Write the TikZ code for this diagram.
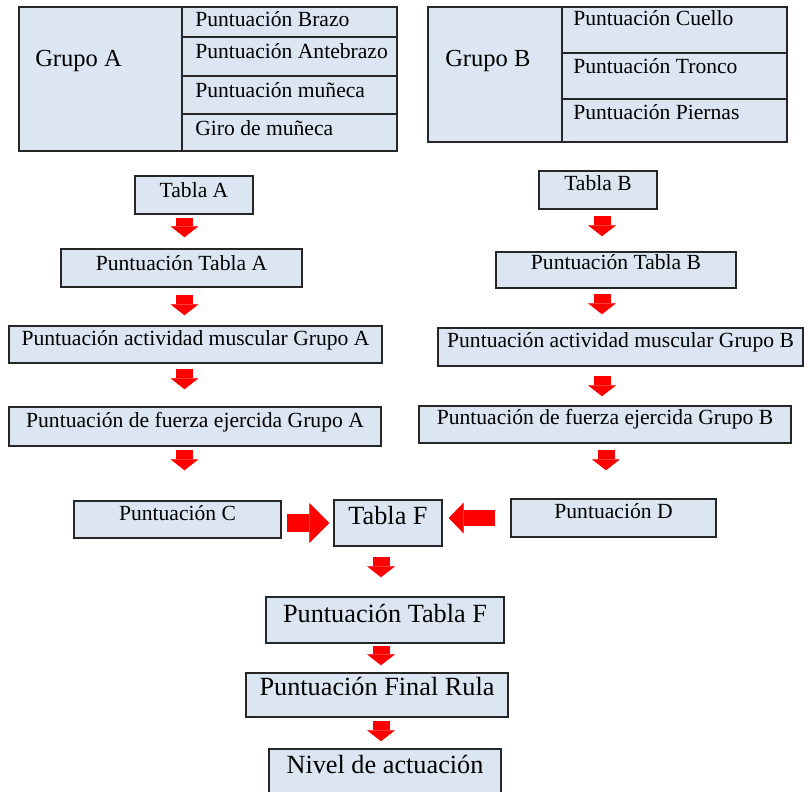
\documentclass[tikz,border=0pt]{standalone}
\usepackage{fontspec}
\setmainfont{Liberation Serif}
\usetikzlibrary{arrows.meta}

\definecolor{boxfill}{HTML}{DCE6F2}
\definecolor{boxline}{HTML}{262626}

\newcommand\midfont{\fontsize{16.2}{19}\selectfont}
\newcommand\grpfont{\fontsize{18.4}{22}\selectfont}
\newcommand\bigfont{\fontsize{19.7}{23}\selectfont}

% \flowbox{name}{x1}{y1}{x2}{y2}{baseline below top}{font}{text}
\newcommand\flowbox[8]{%
  \pgfmathsetmacro\fbw{(#4-#2)*0.75}%
  \pgfmathsetmacro\fbt{#6*0.75}%
  \pgfmathsetmacro\fbd{(#5-#3-#6)*0.75}%
  \node[flowbox, minimum width=\fbw pt, text height=\fbt pt,
        text depth=\fbd pt, font=#7] (#1) at ({(#2+#4)/2},{(#3+#5)/2}) {#8};%
}

\tikzset{
  flowbox/.style={rectangle, draw=boxline, fill=boxfill, line width=1.1pt,
    inner xsep=0pt, inner ysep=0pt},
  tableline/.style={draw=boxline, line width=1.1pt},
  celltext/.style={anchor=base west, inner sep=0pt, font=\midfont},
  grouptext/.style={anchor=base west, inner sep=0pt, font=\grpfont},
  darrow/.style={draw=red, line width=12.75pt,
    -{Triangle[width=21pt, length=8.25pt, line width=0.6pt]}},
  carrow/.style={draw=red, line width=13.5pt,
    -{Triangle[width=30pt, length=15pt, line width=0.6pt]}},
  barrow/.style={draw=red, line width=12pt,
    -{Triangle[width=23.25pt, length=11.25pt, line width=0.6pt]}},
}

\begin{document}
\begin{tikzpicture}[x=0.75pt, y=-0.75pt]
\useasboundingbox (0,0) rectangle (810,792);
\clip (0,0) rectangle (810,792);

% Group A table
\draw[tableline, fill=boxfill] (19,7) rectangle (397,151);
\draw[tableline] (182,7) -- (182,151);
\draw[tableline] (182,37) -- (397,37);
\draw[tableline] (182,76) -- (397,76);
\draw[tableline] (182,114) -- (397,114);
\node[grouptext] (grpA) at (35,67) {Grupo A};
\node[celltext] (brazo) at (195,26.5) {Puntuación Brazo};
\node[celltext] (antebrazo) at (195,58.5) {Puntuación Antebrazo};
\node[celltext] (muneca) at (195,97.5) {Puntuación muñeca};
\node[celltext] (giro) at (195,135) {Giro de muñeca};

% Group B table
\draw[tableline, fill=boxfill] (428,7) rectangle (787,142);
\draw[tableline] (562,7) -- (562,142);
\draw[tableline] (562,53) -- (787,53);
\draw[tableline] (562,99) -- (787,99);
\node[grouptext] (grpB) at (445,67) {Grupo B};
\node[celltext] (cuello) at (573,26) {Puntuación Cuello};
\node[celltext] (tronco) at (573,74) {Puntuación Tronco};
\node[celltext] (piernas) at (573,119) {Puntuación Piernas};

% Left column
\flowbox{tA}{135}{176}{253}{214}{21}{\midfont}{Tabla A}
\flowbox{ptA}{61}{249}{302}{287}{21}{\midfont}{Puntuación Tabla A}
\flowbox{actA}{9}{326}{382}{363}{19}{\midfont}{Puntuación actividad muscular Grupo A}
\flowbox{fzA}{9}{407}{381}{446}{20}{\midfont}{Puntuación de fuerza ejercida Grupo A}

% Right column
\flowbox{tB}{539}{171}{657}{209}{19}{\midfont}{Tabla B}
\flowbox{ptB}{496}{252}{736}{288}{17}{\midfont}{Puntuación Tabla B}
\flowbox{actB}{438}{328}{803}{366}{19}{\midfont}{Puntuación actividad muscular Grupo B}
\flowbox{fzB}{419}{406}{791}{443}{18}{\midfont}{Puntuación de fuerza ejercida Grupo B}

% Merge row and final chain
\flowbox{pC}{74}{501}{281}{538}{19}{\midfont}{Puntuación C}
\flowbox{pD}{511}{499}{716}{537}{19}{\midfont}{Puntuación D}
\flowbox{tF}{334}{500}{442}{546}{24}{\bigfont}{Tabla F}
\flowbox{ptF}{266}{597}{504}{643}{25}{\bigfont}{Puntuación Tabla F}
\flowbox{fin}{246}{673}{508}{717}{22}{\bigfont}{Puntuación Final Rula}
\flowbox{niv}{269}{749}{501}{800}{24}{\bigfont}{Nivel de actuación}

% Arrow columns
\coordinate (colA) at (184.5,0);
\coordinate (colB) at (602,0);
\coordinate (colB4) at (606,0);
\coordinate (colF) at (381,0);

% Down arrows, left
\draw[darrow, shorten <=2.25pt, shorten >=8.25pt] (tA.south -| colA) -- (ptA.north -| colA);
\draw[darrow, shorten <=5.25pt, shorten >=7.5pt] (ptA.south -| colA) -- (actA.north -| colA);
\draw[darrow, shorten <=3.75pt, shorten >=12.75pt] (actA.south -| colA) -- (fzA.north -| colA);
\draw[darrow, shorten <=2.25pt, shorten >=22.5pt] (fzA.south -| colA) -- (pC.north -| colA);

% Down arrows, right
\draw[darrow, shorten <=4.5pt, shorten >=11.25pt] (tB.south -| colB) -- (ptB.north -| colB);
\draw[darrow, shorten <=3.75pt, shorten >=9.75pt] (ptB.south -| colB) -- (actB.north -| colB);
\draw[darrow, shorten <=6.75pt, shorten >=6.75pt] (actB.south -| colB) -- (fzB.north -| colB);
\draw[darrow, shorten <=4.5pt, shorten >=21pt] (fzB.south -| colB4) -- (pD.north -| colB4);

% Into Tabla F
\draw[carrow, shorten <=3.75pt, shorten >=3pt] (pC.east |- tF.center) -- (tF.west);
\draw[barrow, shorten <=11.25pt, shorten >=4.5pt] (pD.west) -- (tF.east |- pD.west);

% Down arrows, bottom chain
\draw[darrow, shorten <=7.5pt, shorten >=14.25pt] (tF.south -| colF) -- (ptF.north -| colF);
\draw[darrow, shorten <=1.5pt, shorten >=5.25pt] (ptF.south -| colF) -- (fin.north -| colF);
\draw[darrow, shorten <=2.25pt, shorten >=5.25pt] (fin.south -| colF) -- (niv.north -| colF);
\end{tikzpicture}
\end{document}
